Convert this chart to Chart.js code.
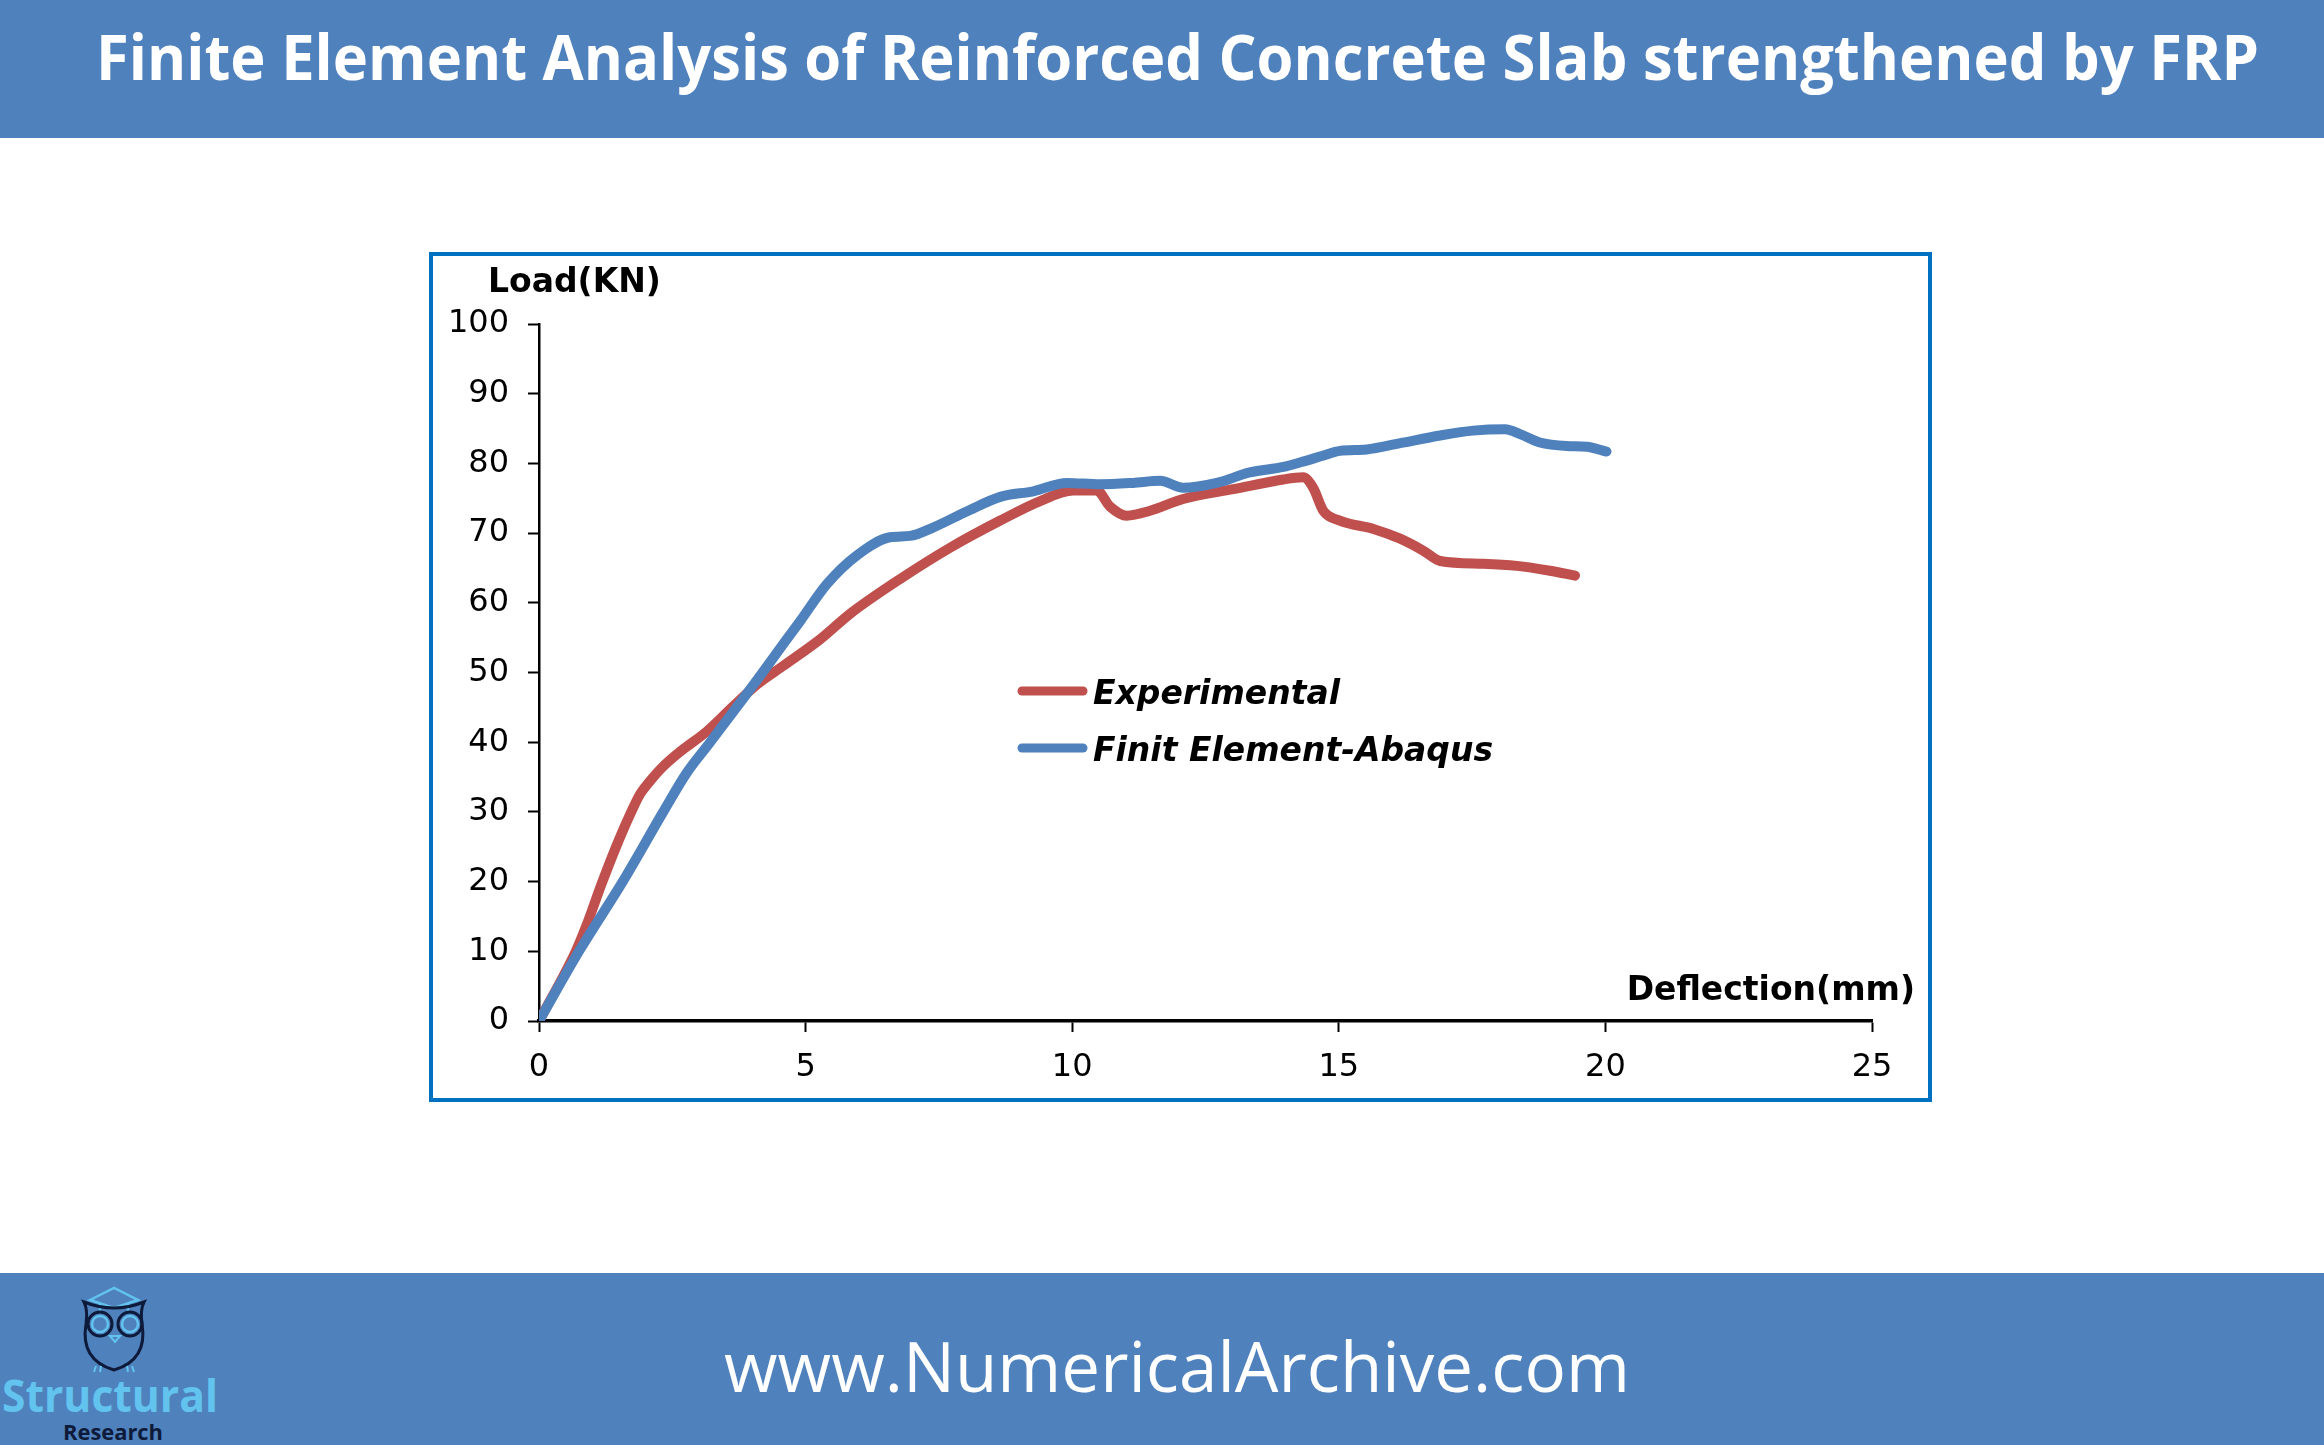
<!DOCTYPE html>
<html>
<head>
<meta charset="utf-8">
<script src="https://cdn.jsdelivr.net/npm/chart.js@4.4.1/dist/chart.umd.min.js"></script>
<style>
  html, body { margin: 0; padding: 0; background: #fff; }
  body { width: 2324px; height: 1445px; position: relative; overflow: hidden; }
  .band { position: absolute; left: 0; width: 2324px; background: #4F81BD; }
  .fit { position: absolute; white-space: nowrap; transform-origin: 0 0; }
  #title { top: 24px; left: 96px; font: 700 63px/63px "Open Sans", sans-serif; color: #fff; }
  #site { top: 1330px; left: 724px; font: 400 70px/70px "Open Sans", sans-serif; color: #fff; }
  #brand1 { top: 1372px; left: 2px; font: 700 45px/45px "Open Sans", sans-serif; color: #62C3EE; }
  #brand2 { top: 1420px; left: 63px; font: 700 22px/22px "Open Sans", sans-serif; color: #0E1A3A; }
  #box { position: absolute; left: 429px; top: 252px; width: 1503px; height: 850px;
         border: 4px solid #0070C0; box-sizing: border-box; background: #fff; }
  #owl { position: absolute; left: 76px; top: 1280px; }
</style>
</head>
<body>
<div class="band" style="top:0;height:138px"></div>
<div class="band" style="top:1273px;height:172px"></div>
<div id="title" class="fit" data-w="2163">Finite Element Analysis of Reinforced Concrete Slab strengthened by FRP</div>
<div id="site" class="fit" data-w="906">www.NumericalArchive.com</div>
<div id="brand1" class="fit" data-w="216">Structural</div>
<div id="brand2" class="fit" data-w="100">Research</div>
<svg id="owl" width="76" height="96" viewBox="0 0 76 96">
  <path d="M14 20 L38 8 L62 20 L38 28 Z" fill="none" stroke="#62C3EE" stroke-width="2.5"/>
  <path d="M24 24 L24 32 M52 24 L52 32" stroke="#62C3EE" stroke-width="2.5"/>
  <path d="M8 22 Q12 30 10 44 Q4 80 38 90 Q72 80 66 44 Q64 30 68 22 Q38 34 8 22 Z" fill="none" stroke="#0E1A3A" stroke-width="3"/>
  <circle cx="24" cy="44" r="12" fill="none" stroke="#0E1A3A" stroke-width="3"/>
  <circle cx="24" cy="44" r="8" fill="none" stroke="#62C3EE" stroke-width="2.5"/>
  <circle cx="54" cy="44" r="12" fill="none" stroke="#0E1A3A" stroke-width="3"/>
  <circle cx="54" cy="44" r="8" fill="none" stroke="#62C3EE" stroke-width="2.5"/>
  <path d="M34 56 L39 62 L44 56 Z" fill="none" stroke="#62C3EE" stroke-width="2"/>
  <path d="M18 92 L20 86 M24 92 L25 86 M52 92 L51 86 M58 92 L56 86" stroke="#62C3EE" stroke-width="2"/>
</svg>
<div id="box"><canvas id="c" width="1495" height="842"></canvas></div>
<script>
// Experimental curve (deflection mm / load kN)
const expDeflection = [0, 0.69, 0.88, 1.19, 1.5, 1.73, 1.90, 2.08, 2.30, 2.64, 3.14, 3.65, 4.09, 4.59, 5.28, 5.83, 6.77, 7.71, 8.65, 9.40, 10.02, 10.46, 10.71, 11.02, 11.46, 12.08, 13.02, 13.96, 14.33, 14.52, 14.71, 15.02, 15.65, 16.15, 16.58, 16.90, 17.71, 18.34, 18.96, 19.43]
const expLoad = [0, 10, 13.5, 20, 26, 30, 32.6, 34.4, 36.3, 38.6, 41.5, 45.2, 48.3, 51, 54.8, 58.4, 63.4, 67.9, 71.8, 74.6, 76.1, 76.1, 73.8, 72.5, 73.2, 74.9, 76.3, 77.7, 78.0, 76.5, 73.2, 71.8, 70.6, 69.2, 67.5, 66.0, 65.6, 65.3, 64.6, 63.9]

// Finite element (Abaqus) curve
const feDeflection = [0, 0.75, 1.57, 2.33, 2.77, 3.21, 4.03, 4.65, 4.90, 5.40, 5.96, 6.58, 6.96, 7.39, 8.02, 8.65, 9.27, 9.90, 10.52, 11.14, 11.65, 12.08, 12.71, 13.33, 13.96, 14.30, 14.70, 15.02, 15.52, 16.15, 16.90, 17.52, 18.12, 18.40, 18.77, 19.27, 19.65, 20.02]
const feLoad = [0, 10, 20, 30, 35.6, 40, 48.3, 54.8, 57.4, 62.7, 66.8, 69.4, 69.6, 70.8, 73.1, 75.2, 76.0, 77.2, 77.0, 77.2, 77.5, 76.5, 77.2, 78.7, 79.5, 80.2, 81.1, 81.8, 82.0, 82.9, 84.0, 84.7, 84.9, 84.2, 83.0, 82.5, 82.4, 81.7]

const seriesNames = ['Experimental', 'Finit Element-Abaqus']
const seriesColors = ['#C0504D', '#4F81BD']
const xTitle = 'Deflection(mm)'
const yTitle = 'Load(KN)'
const xRange = [0, 25, 5]
const yRange = [0, 100, 10]

const toPoints = (xs, ys) => xs.map((x, i) => ({ x: x, y: ys[i] }))

// squeeze html text to the width it has in the picture
function fitAll() {
    document.querySelectorAll('.fit').forEach(el => {
        const w = el.getBoundingClientRect().width
        el.style.transform = 'scaleX(' + (el.dataset.w / w) + ')'
    })
}

// axis titles and legend sit inside the plot, like the excel original
const overlay = {
    id: 'overlay',
    afterDraw(chart) {
        const ctx = chart.ctx
        const a = chart.chartArea
        ctx.save()
        ctx.fillStyle = '#000'
        ctx.font = 'bold 33px "DejaVu Sans"'
        ctx.textAlign = 'left'
        ctx.fillText(yTitle, a.left - 51, a.top - 32)
        ctx.textAlign = 'right'
        ctx.fillText(xTitle, a.right + 43, a.bottom - 21)
        ctx.textAlign = 'left'
        ctx.font = 'italic bold 33px "DejaVu Sans"'
        ctx.lineCap = 'round'
        ctx.lineWidth = 9
        seriesNames.forEach((name, i) => {
            const y = a.top + 367 + i * 57
            ctx.strokeStyle = seriesColors[i]
            ctx.beginPath()
            ctx.moveTo(a.left + 483, y)
            ctx.lineTo(a.left + 544, y)
            ctx.stroke()
            ctx.fillText(name, a.left + 554, y + 13)
        })
        ctx.restore()
    }
}

function axis(range, extra) {
    return Object.assign({
        type: 'linear',
        min: range[0],
        max: range[1],
        grid: { display: true, drawOnChartArea: false, drawTicks: true, tickLength: 11, tickWidth: 2, color: '#000' }
    }, extra)
}

document.fonts.ready.then(() => {
    fitAll()
    const ctx = document.getElementById('c').getContext('2d')
    new Chart(ctx, {
        type: 'line',
        data: {
            datasets: [{
                label: seriesNames[0],
                data: toPoints(expDeflection, expLoad),
                borderColor: seriesColors[0],
                borderWidth: 10,
                order: 2
            }, {
                label: seriesNames[1],
                data: toPoints(feDeflection, feLoad),
                borderColor: seriesColors[1],
                borderWidth: 10,
                order: 1
            }]
        },
        options: {
            responsive: false,
            animation: false,
            events: [],
            elements: {
                point: { radius: 0 },
                line: { cubicInterpolationMode: 'monotone', borderCapStyle: 'round', borderJoinStyle: 'round' }
            },
            layout: { padding: { top: 68, right: 56, left: 0, bottom: 0 } },
            plugins: { legend: { display: false }, tooltip: { enabled: false } },
            scales: {
                x: axis(xRange, {
                    border: { color: '#000', width: 3.5 },
                    ticks: { stepSize: xRange[2], color: '#000', padding: 16, maxRotation: 0, font: { size: 32, family: '"DejaVu Sans"' } },
                    afterFit: s => { s.height = 77 }
                }),
                y: axis(yRange, {
                    border: { color: '#000', width: 2.5 },
                    ticks: { stepSize: yRange[2], color: '#000', padding: 19, font: { size: 32, family: '"DejaVu Sans"' } },
                    afterFit: s => { s.width = 106 }
                })
            }
        },
        plugins: [overlay]
    })
})
</script>
</body>
</html>
